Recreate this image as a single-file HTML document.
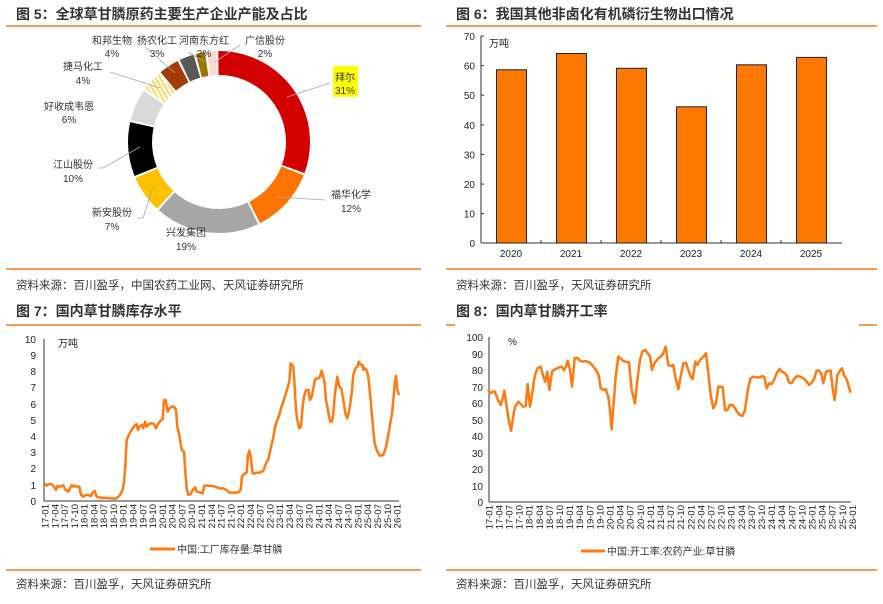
<!DOCTYPE html>
<html><head><meta charset="utf-8"><style>
html,body{margin:0;padding:0;background:#fff;}
svg{display:block;font-family:"Liberation Sans","Noto Sans CJK SC",sans-serif;}
</style></head><body>
<svg width="883" height="604" viewBox="0 0 883 604" xmlns="http://www.w3.org/2000/svg">
<defs>
<pattern id="hatch" width="4" height="4" patternUnits="userSpaceOnUse" patternTransform="rotate(-30)">
<rect width="4" height="4" fill="#fff"/><rect width="4" height="2" fill="#ffd966"/>
</pattern>
</defs>
<g fill="#333" font-size="14" font-weight="bold">
<text x="16" y="19">图 5：全球草甘膦原药主要生产企业产能及占比</text>
<text x="456" y="19">图 6：我国其他非卤化有机磷衍生物出口情况</text>
<text x="16" y="316">图 7：国内草甘膦库存水平</text>
<text x="456" y="316">图 8：国内草甘膦开工率</text>
</g>
<g stroke="#f07d1e" stroke-width="1.5">
<line x1="6" y1="26" x2="421" y2="26"/><line x1="446" y1="26" x2="877" y2="26"/>
<line x1="6" y1="269" x2="421" y2="269"/><line x1="446" y1="269" x2="877" y2="269"/>
<line x1="6" y1="325" x2="421" y2="325"/><line x1="446" y1="325" x2="455" y2="325"/><line x1="859" y1="325" x2="877" y2="325"/>
<line x1="6" y1="570" x2="421" y2="570"/><line x1="446" y1="570" x2="877" y2="570"/>
</g>
<g fill="#333" font-size="11.5">
<text x="16" y="289">资料来源：百川盈孚，中国农药工业网、天风证券研究所</text>
<text x="456" y="289">资料来源：百川盈孚，天风证券研究所</text>
<text x="16" y="588">资料来源：百川盈孚，天风证券研究所</text>
<text x="456" y="588">资料来源：百川盈孚，天风证券研究所</text>
</g>

<!-- donut -->
<g transform="translate(219,142) rotate(-90)" fill="none" stroke-width="24">
<circle r="79" pathLength="100" stroke="#d40000" stroke-dasharray="30.6 69.4" stroke-dashoffset="0"/>
<circle r="79" pathLength="100" stroke="#ff7300" stroke-dasharray="11.6 88.4" stroke-dashoffset="-31"/>
<circle r="79" pathLength="100" stroke="#a6a6a6" stroke-dasharray="18.6 81.4" stroke-dashoffset="-43"/>
<circle r="79" pathLength="100" stroke="#ffc000" stroke-dasharray="6.6 93.4" stroke-dashoffset="-62"/>
<circle r="79" pathLength="100" stroke="#000" stroke-dasharray="9.6 90.4" stroke-dashoffset="-69"/>
<circle r="79" pathLength="100" stroke="#d9d9d9" stroke-dasharray="5.6 94.4" stroke-dashoffset="-79"/>
<circle r="79" pathLength="100" stroke="url(#hatch)" stroke-dasharray="3.6 96.4" stroke-dashoffset="-85"/>
<circle r="79" pathLength="100" stroke="#a33c05" stroke-dasharray="3.6 96.4" stroke-dashoffset="-89"/>
<circle r="79" pathLength="100" stroke="#595959" stroke-dasharray="2.6 97.4" stroke-dashoffset="-93"/>
<circle r="79" pathLength="100" stroke="#9b7500" stroke-dasharray="1.6 98.4" stroke-dashoffset="-96"/>
<circle r="79" pathLength="100" stroke="#fbd9cf" stroke-dasharray="1.6 98.4" stroke-dashoffset="-98"/>
</g>
<rect x="333" y="66" width="25" height="31" fill="#ffff00"/>
<g stroke="#a6a6a6" stroke-width="0.8" fill="none">
<polyline points="287,97 330,83"/><polyline points="277,197 325,200"/>
<polyline points="153,187 143,218 137,218"/><polyline points="140,147 103,168 98,168"/>
<polyline points="110,72 160,88"/><polyline points="145,47 175,73"/>
<polyline points="188,52 205,62"/><polyline points="240,45 215,62"/>
</g>
<g font-size="10" fill="#333" text-anchor="middle">
<text x="112" y="44">和邦生物</text><text x="112" y="57">4%</text>
<text x="157" y="44">扬农化工</text><text x="157" y="57">3%</text>
<text x="204" y="44">河南东方红</text><text x="204" y="57">2%</text>
<text x="265" y="44">广信股份</text><text x="265" y="57">2%</text>
<text x="345" y="81">拜尔</text><text x="345" y="94">31%</text>
<text x="351" y="198">福华化学</text><text x="351" y="212">12%</text>
<text x="186" y="236">兴发集团</text><text x="186" y="250">19%</text>
<text x="112" y="216">新安股份</text><text x="112" y="230">7%</text>
<text x="73" y="168">江山股份</text><text x="73" y="182">10%</text>
<text x="69" y="110">好收成韦恩</text><text x="69" y="123">6%</text>
<text x="83" y="70">捷马化工</text><text x="83" y="84">4%</text>
</g>

<!-- chart 6 -->
<g stroke="#333" stroke-width="1">
<line x1="481" y1="36" x2="481" y2="243"/><line x1="481" y1="243" x2="842" y2="243"/>
<line x1="481" y1="36" x2="484" y2="36"/>
<line x1="481" y1="65.6" x2="484" y2="65.6"/><line x1="481" y1="95.2" x2="484" y2="95.2"/>
<line x1="481" y1="124.9" x2="484" y2="124.9"/><line x1="481" y1="154.5" x2="484" y2="154.5"/>
<line x1="481" y1="184.1" x2="484" y2="184.1"/><line x1="481" y1="213.7" x2="484" y2="213.7"/>
<line x1="541" y1="243" x2="541" y2="240"/><line x1="601" y1="243" x2="601" y2="240"/>
<line x1="661" y1="243" x2="661" y2="240"/><line x1="721" y1="243" x2="721" y2="240"/>
<line x1="781" y1="243" x2="781" y2="240"/>
</g>
<g fill="#ff7800" stroke="#222" stroke-width="1">
<rect x="496.5" y="69.8" width="30" height="173.2"/>
<rect x="556.5" y="53.5" width="30" height="189.5"/>
<rect x="616.5" y="68.3" width="30" height="174.7"/>
<rect x="676.5" y="106.8" width="30" height="136.2"/>
<rect x="736.5" y="64.8" width="30" height="178.2"/>
<rect x="796.5" y="57.4" width="30" height="185.6"/>
</g>
<g font-size="10" fill="#222" text-anchor="end">
<text x="475" y="40">70</text><text x="475" y="69.6">60</text><text x="475" y="99.2">50</text>
<text x="475" y="128.9">40</text><text x="475" y="158.5">30</text><text x="475" y="188.1">20</text>
<text x="475" y="217.7">10</text><text x="475" y="247">0</text>
</g>
<g font-size="10" fill="#222" text-anchor="middle">
<text x="511" y="257">2020</text><text x="571" y="257">2021</text><text x="631" y="257">2022</text>
<text x="691" y="257">2023</text><text x="751" y="257">2024</text><text x="811" y="257">2025</text>
</g>
<text x="489" y="47" font-size="10" fill="#222">万吨</text>

<!-- chart 7 -->
<g stroke="#333" stroke-width="1">
<line x1="44" y1="339" x2="44" y2="501"/><line x1="44" y1="501" x2="399" y2="501"/>
</g>
<g font-size="10" fill="#222" text-anchor="end">
<text x="36" y="343">10</text><text x="36" y="359">9</text><text x="36" y="375">8</text><text x="36" y="391">7</text>
<text x="36" y="408">6</text><text x="36" y="424">5</text><text x="36" y="440">4</text><text x="36" y="456">3</text>
<text x="36" y="472">2</text><text x="36" y="489">1</text><text x="36" y="505">0</text>
</g>
<text x="58" y="347" font-size="10" fill="#222">万吨</text>
<g transform="translate(0,300) scale(0.33333)">
<polyline fill="none" stroke="#ff7a10" stroke-width="7.5" stroke-linejoin="round" points="135,550 140,557 148,552 155,553 162,560 168,570 172,558 180,560 190,556 195,568 205,575 210,565 215,555 220,560 225,558 232,560 238,560 243,585 250,590 258,585 265,585 272,588 278,578 284,573 290,590 300,593 320,594 340,596 350,595 360,585 368,570 372,545 376,500 380,420 385,408 390,398 398,385 405,375 410,373 414,390 418,380 425,375 430,385 435,365 440,380 447,372 455,370 462,372 468,385 475,370 482,362 488,357 492,300 497,300 503,335 508,325 515,320 522,320 528,330 532,380 538,405 545,450 552,455 555,500 560,565 565,585 572,582 578,570 585,562 590,575 600,577 608,580 612,558 620,556 630,558 640,558 650,562 660,565 670,565 680,570 688,578 695,578 705,578 715,577 722,570 726,530 732,522 740,518 744,465 748,452 752,470 758,520 765,520 772,518 780,518 790,512 798,490 805,478 810,455 818,420 822,400 826,375 832,360 838,345 843,325 848,310 855,290 862,265 868,245 872,190 877,195 880,200 884,260 888,330 892,360 898,385 903,380 908,320 912,290 918,270 925,270 930,300 935,290 940,265 945,238 953,235 960,230 965,212 970,230 974,250 978,300 984,330 990,365 996,365 1000,340 1005,280 1012,230 1018,260 1024,265 1030,300 1036,340 1042,355 1048,330 1055,280 1060,225 1066,205 1072,200 1076,185 1082,195 1088,195 1090,210 1095,205 1100,210 1105,230 1112,300 1118,370 1124,430 1132,455 1140,467 1150,465 1158,440 1164,410 1170,375 1176,340 1180,300 1184,250 1188,228 1192,270 1197,285"/>
</g>
<g font-size="9.5" fill="#222" text-anchor="end" id="x7">
</g>
<line x1="150" y1="549" x2="175" y2="549" stroke="#ff7a10" stroke-width="3"/>
<text x="177" y="553" font-size="10" fill="#333">中国:工厂库存量:草甘膦</text>

<!-- chart 8 -->
<g stroke="#333" stroke-width="1">
<line x1="489" y1="337" x2="489" y2="502"/><line x1="489" y1="502" x2="851" y2="502"/>
</g>
<g font-size="10" fill="#222" text-anchor="end">
<text x="483" y="341">100</text><text x="483" y="358">90</text><text x="483" y="374">80</text><text x="483" y="391">70</text>
<text x="483" y="407">60</text><text x="483" y="424">50</text><text x="483" y="440">40</text><text x="483" y="457">30</text>
<text x="483" y="473">20</text><text x="483" y="490">10</text><text x="483" y="506">0</text>
</g>
<text x="508" y="345" font-size="10" fill="#222">%</text>
<g transform="translate(440,300) scale(0.33333)">
<polyline fill="none" stroke="#ff7a10" stroke-width="7.5" stroke-linejoin="round" points="145,268 150,280 158,275 165,275 172,295 182,315 187,300 193,272 200,320 207,365 213,393 218,360 225,320 235,305 242,312 250,320 257,318 263,252 270,320 276,285 284,230 292,205 302,200 310,230 316,245 322,215 328,270 336,215 345,208 355,203 365,200 372,210 378,200 383,182 390,210 396,260 404,175 412,173 420,182 428,185 435,183 443,185 452,190 460,200 468,210 476,225 482,265 490,270 497,268 505,290 510,330 515,388 520,320 527,230 535,170 542,175 550,183 558,185 567,187 575,270 585,310 592,240 600,180 607,155 615,150 622,158 630,170 636,210 643,190 652,178 662,170 670,160 677,140 685,195 692,198 700,195 707,235 715,268 722,230 730,190 738,188 745,210 752,230 758,237 766,185 772,195 780,180 790,170 798,160 805,220 812,285 820,325 828,310 835,260 842,260 848,262 855,330 862,330 870,315 878,315 885,325 893,338 900,345 907,348 915,330 920,295 925,260 932,235 940,230 950,232 960,232 968,228 973,232 980,265 987,250 995,252 1002,240 1010,220 1018,207 1025,215 1032,218 1040,225 1047,248 1055,250 1063,235 1072,228 1082,230 1090,235 1098,242 1107,255 1115,248 1123,235 1130,212 1138,212 1145,225 1150,250 1158,215 1165,212 1172,212 1178,265 1184,300 1188,265 1192,225 1200,212 1206,205 1212,225 1220,238 1225,255 1232,278"/>
</g>
<line x1="581" y1="551" x2="605" y2="551" stroke="#ff7a10" stroke-width="3"/>
<text x="607" y="555" font-size="10" fill="#333">中国:开工率:农药产业:草甘膦</text>

<!-- x labels chart 7 -->
<g font-size="9.5" fill="#222" text-anchor="end">
<text transform="translate(48.5,504) rotate(-90)">17-01</text>
<text transform="translate(58.3,504) rotate(-90)">17-04</text>
<text transform="translate(68.1,504) rotate(-90)">17-07</text>
<text transform="translate(77.8,504) rotate(-90)">17-10</text>
<text transform="translate(87.6,504) rotate(-90)">18-01</text>
<text transform="translate(97.4,504) rotate(-90)">18-04</text>
<text transform="translate(107.2,504) rotate(-90)">18-07</text>
<text transform="translate(117,504) rotate(-90)">18-10</text>
<text transform="translate(126.7,504) rotate(-90)">19-01</text>
<text transform="translate(136.5,504) rotate(-90)">19-04</text>
<text transform="translate(146.3,504) rotate(-90)">19-07</text>
<text transform="translate(156.1,504) rotate(-90)">19-10</text>
<text transform="translate(165.9,504) rotate(-90)">20-01</text>
<text transform="translate(175.6,504) rotate(-90)">20-04</text>
<text transform="translate(185.4,504) rotate(-90)">20-07</text>
<text transform="translate(195.2,504) rotate(-90)">20-10</text>
<text transform="translate(205,504) rotate(-90)">21-01</text>
<text transform="translate(214.8,504) rotate(-90)">21-04</text>
<text transform="translate(224.5,504) rotate(-90)">21-07</text>
<text transform="translate(234.3,504) rotate(-90)">21-10</text>
<text transform="translate(244.1,504) rotate(-90)">22-01</text>
<text transform="translate(253.9,504) rotate(-90)">22-04</text>
<text transform="translate(263.7,504) rotate(-90)">22-07</text>
<text transform="translate(273.4,504) rotate(-90)">22-10</text>
<text transform="translate(283.2,504) rotate(-90)">23-01</text>
<text transform="translate(293,504) rotate(-90)">23-04</text>
<text transform="translate(302.8,504) rotate(-90)">23-07</text>
<text transform="translate(312.6,504) rotate(-90)">23-10</text>
<text transform="translate(322.3,504) rotate(-90)">24-01</text>
<text transform="translate(332.1,504) rotate(-90)">24-04</text>
<text transform="translate(341.9,504) rotate(-90)">24-07</text>
<text transform="translate(351.7,504) rotate(-90)">24-10</text>
<text transform="translate(361.5,504) rotate(-90)">25-01</text>
<text transform="translate(371.2,504) rotate(-90)">25-04</text>
<text transform="translate(381,504) rotate(-90)">25-07</text>
<text transform="translate(390.8,504) rotate(-90)">25-10</text>
<text transform="translate(400.6,504) rotate(-90)">26-01</text>
</g>
<!-- x labels chart 8 -->
<g font-size="9.5" fill="#222" text-anchor="end">
<text transform="translate(492.3,505) rotate(-90)">17-01</text>
<text transform="translate(502.4,505) rotate(-90)">17-04</text>
<text transform="translate(512.5,505) rotate(-90)">17-07</text>
<text transform="translate(522.6,505) rotate(-90)">17-10</text>
<text transform="translate(532.7,505) rotate(-90)">18-01</text>
<text transform="translate(542.8,505) rotate(-90)">18-04</text>
<text transform="translate(552.9,505) rotate(-90)">18-07</text>
<text transform="translate(563,505) rotate(-90)">18-10</text>
<text transform="translate(573.1,505) rotate(-90)">19-01</text>
<text transform="translate(583.2,505) rotate(-90)">19-04</text>
<text transform="translate(593.3,505) rotate(-90)">19-07</text>
<text transform="translate(603.4,505) rotate(-90)">19-10</text>
<text transform="translate(613.5,505) rotate(-90)">20-01</text>
<text transform="translate(623.6,505) rotate(-90)">20-04</text>
<text transform="translate(633.7,505) rotate(-90)">20-07</text>
<text transform="translate(643.8,505) rotate(-90)">20-10</text>
<text transform="translate(653.9,505) rotate(-90)">21-01</text>
<text transform="translate(664,505) rotate(-90)">21-04</text>
<text transform="translate(674.1,505) rotate(-90)">21-07</text>
<text transform="translate(684.2,505) rotate(-90)">21-10</text>
<text transform="translate(694.3,505) rotate(-90)">22-01</text>
<text transform="translate(704.4,505) rotate(-90)">22-04</text>
<text transform="translate(714.5,505) rotate(-90)">22-07</text>
<text transform="translate(724.6,505) rotate(-90)">22-10</text>
<text transform="translate(734.7,505) rotate(-90)">23-01</text>
<text transform="translate(744.8,505) rotate(-90)">23-04</text>
<text transform="translate(754.9,505) rotate(-90)">23-07</text>
<text transform="translate(765,505) rotate(-90)">23-10</text>
<text transform="translate(775.1,505) rotate(-90)">24-01</text>
<text transform="translate(785.2,505) rotate(-90)">24-04</text>
<text transform="translate(795.3,505) rotate(-90)">24-07</text>
<text transform="translate(805.4,505) rotate(-90)">24-10</text>
<text transform="translate(815.5,505) rotate(-90)">25-01</text>
<text transform="translate(825.6,505) rotate(-90)">25-04</text>
<text transform="translate(835.7,505) rotate(-90)">25-07</text>
<text transform="translate(845.8,505) rotate(-90)">25-10</text>
<text transform="translate(855.9,505) rotate(-90)">26-01</text>
</g>
</svg>
</body></html>
